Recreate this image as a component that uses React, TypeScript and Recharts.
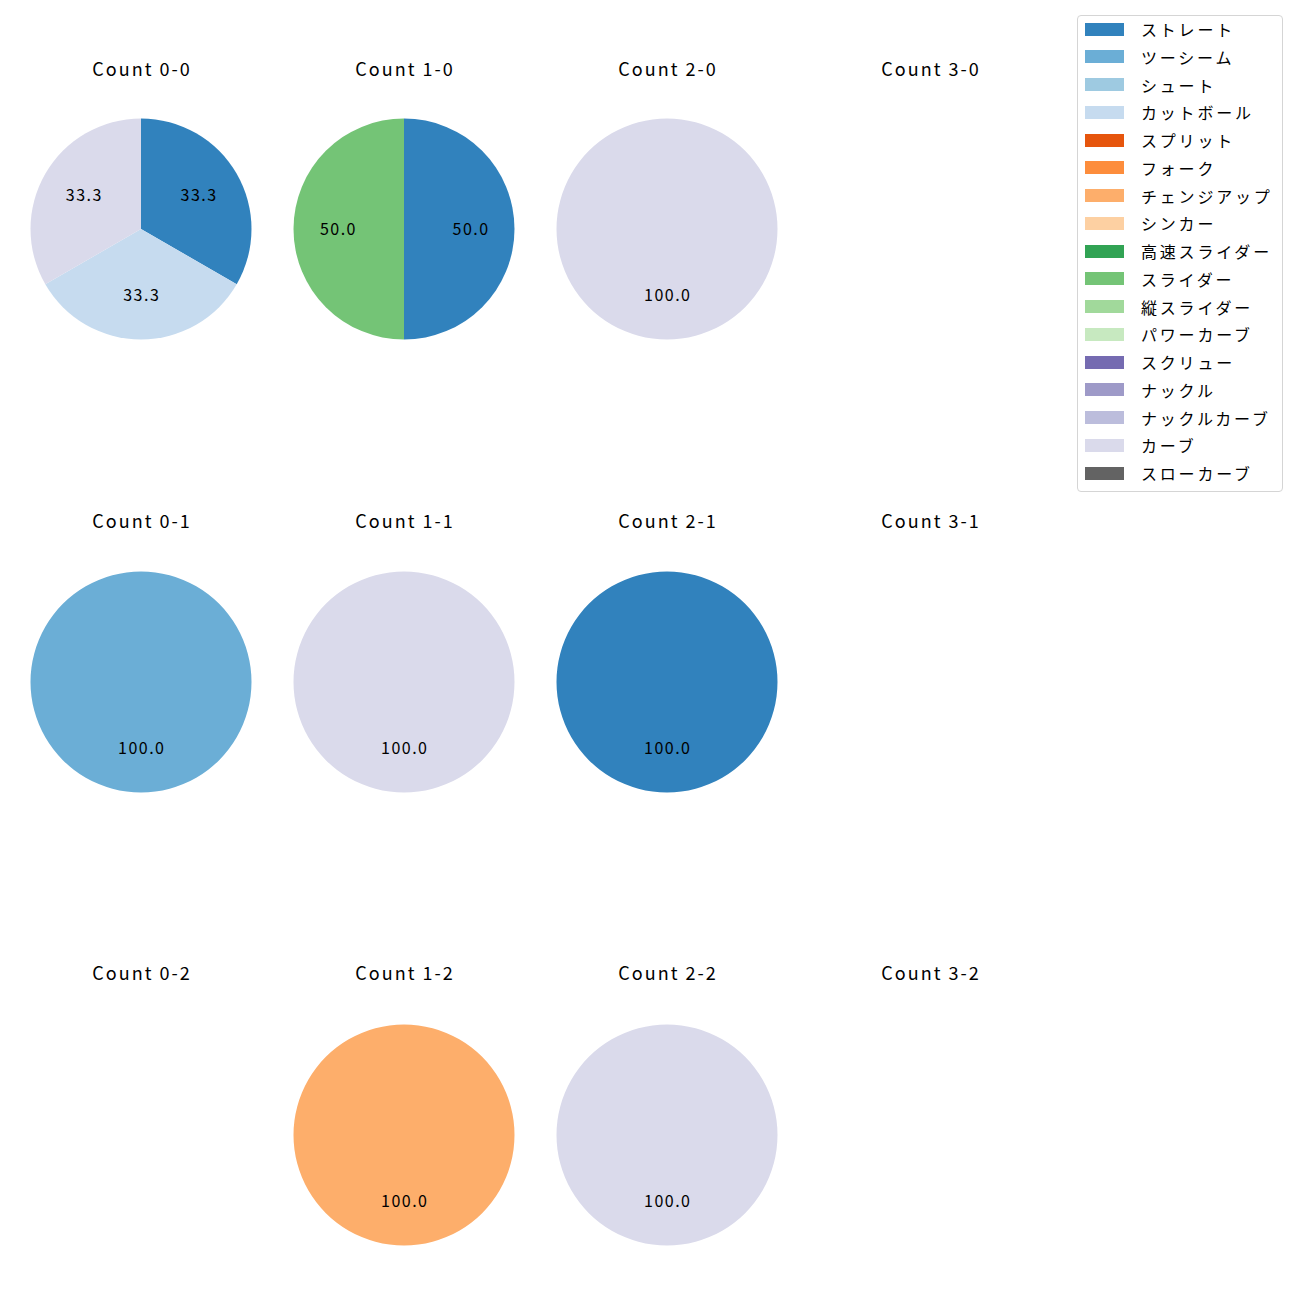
import { PieChart, Pie, Cell } from 'recharts';

const pitchTypes = [
  'ストレート', 'ツーシーム', 'シュート', 'カットボール', 'スプリット', 'フォーク',
  'チェンジアップ', 'シンカー', '高速スライダー', 'スライダー', '縦スライダー',
  'パワーカーブ', 'スクリュー', 'ナックル', 'ナックルカーブ', 'カーブ', 'スローカーブ',
];
const pitchColors = [
  '#3182bd', '#6baed6', '#9ecae1', '#c6dbef', '#e6550d', '#fd8d3c',
  '#fdae6b', '#fdd0a2', '#31a354', '#74c476', '#a1d99b',
  '#c7e9c0', '#756bb1', '#9e9ac8', '#bcbddc', '#dadaeb', '#636363',
];

const count00 = [
  { name: 'ストレート', value: 1 },
  { name: 'カットボール', value: 1 },
  { name: 'カーブ', value: 1 },
];
const count10 = [
  { name: 'ストレート', value: 1 },
  { name: 'スライダー', value: 1 },
];
const count20 = [{ name: 'カーブ', value: 1 }];
const count30: { name: string; value: number }[] = [];
const count01 = [{ name: 'ツーシーム', value: 1 }];
const count11 = [{ name: 'カーブ', value: 1 }];
const count21 = [{ name: 'ストレート', value: 1 }];
const count31: { name: string; value: number }[] = [];
const count02: { name: string; value: number }[] = [];
const count12 = [{ name: 'チェンジアップ', value: 1 }];
const count22 = [{ name: 'カーブ', value: 1 }];
const count32: { name: string; value: number }[] = [];

const panels = [
  { title: 'Count 0-0', data: count00, col: 0, row: 0 },
  { title: 'Count 1-0', data: count10, col: 1, row: 0 },
  { title: 'Count 2-0', data: count20, col: 2, row: 0 },
  { title: 'Count 3-0', data: count30, col: 3, row: 0 },
  { title: 'Count 0-1', data: count01, col: 0, row: 1 },
  { title: 'Count 1-1', data: count11, col: 1, row: 1 },
  { title: 'Count 2-1', data: count21, col: 2, row: 1 },
  { title: 'Count 3-1', data: count31, col: 3, row: 1 },
  { title: 'Count 0-2', data: count02, col: 0, row: 2 },
  { title: 'Count 1-2', data: count12, col: 1, row: 2 },
  { title: 'Count 2-2', data: count22, col: 2, row: 2 },
  { title: 'Count 3-2', data: count32, col: 3, row: 2 },
];

const FONT = '"Noto Sans CJK JP", "Noto Sans", sans-serif';
const colX = [141, 404, 667, 930];
const titleY = [69, 521, 973];
const pieY = [229, 682, 1135];
const RADIUS = 110.5;
const RAD = Math.PI / 180;

const colorOf = (name: string) => pitchColors[pitchTypes.indexOf(name)];

const renderLabel = (props: any) => {
  const { cx, cy, midAngle, outerRadius, percent } = props;
  const r = outerRadius * 0.6;
  const x = cx + r * Math.cos(-midAngle * RAD);
  const y = cy + r * Math.sin(-midAngle * RAD) - 1.5;
  return (
    <text x={x + 0.75} y={y} textAnchor="middle" dominantBaseline="central"
      fontSize={16} letterSpacing={1.5} fontFamily={FONT} fill="#000">
      {(percent * 100).toFixed(1)}
    </text>
  );
};

export default function App() {
  return (
    <div style={{ position: 'absolute', left: 0, top: 0, width: 1300, height: 1300, background: '#fff', fontFamily: FONT }}>
      <PieChart width={1300} height={1300} margin={{ top: 0, right: 0, bottom: 0, left: 0 }}>
        {panels.filter((p) => p.data.length > 0).map((p) => (
          <Pie
            key={p.title}
            data={p.data}
            dataKey="value"
            nameKey="name"
            cx={colX[p.col]}
            cy={pieY[p.row]}
            outerRadius={RADIUS}
            startAngle={90}
            endAngle={-270}
            stroke="none"
            label={renderLabel}
            labelLine={false}
            isAnimationActive={false}
          >
            {p.data.map((d) => (
              <Cell key={d.name} fill={colorOf(d.name)} />
            ))}
          </Pie>
        ))}
      </PieChart>
      {panels.map((p) => (
        <div key={p.title} style={{
          position: 'absolute', left: colX[p.col] - 100 + 1, width: 200, top: titleY[p.row] - 13,
          height: 24, lineHeight: '24px', textAlign: 'center', fontSize: 18, letterSpacing: 2, color: '#000',
        }}>
          {p.title}
        </div>
      ))}
      <div style={{
        position: 'absolute', left: 1077, top: 15, width: 204, height: 475,
        border: '1px solid #d5d5d5', borderRadius: 4, background: '#fff',
      }}>
        {pitchTypes.map((t, i) => (
          <div key={t} style={{ position: 'absolute', left: 7, top: 6 + i * 27.75, height: 14, display: 'flex', alignItems: 'center' }}>
            <div style={{ width: 39, height: 13, background: pitchColors[i] }} />
            <span style={{ marginLeft: 17, fontSize: 16, letterSpacing: 2.8, lineHeight: '14px', whiteSpace: 'nowrap', color: '#000' }}>{t}</span>
          </div>
        ))}
      </div>
    </div>
  );
}
